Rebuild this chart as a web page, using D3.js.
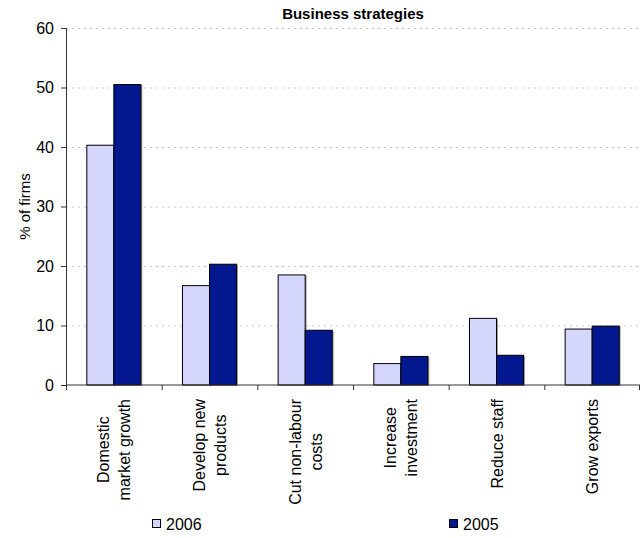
<!DOCTYPE html>
<html>
<head>
<meta charset="utf-8">
<script src="https://cdn.jsdelivr.net/npm/d3@7"></script>
<style>
  body { margin: 0; background: #fff; }
  text { font-family: Arial, "Liberation Sans", sans-serif; fill: #000; }
</style>
</head>
<body>
<div id="chart"></div>
<script>
// chart data
var categories = [
  ["Domestic", "market growth"],
  ["Develop new", "products"],
  ["Cut non-labour", "costs"],
  ["Increase", "investment"],
  ["Reduce staff"],
  ["Grow exports"]
];
var seriesNames = ["2006", "2005"];
var values2006 = [40.3, 16.7, 18.5, 3.6, 11.2, 9.4];
var values2005 = [50.5, 20.3, 9.2, 4.8, 5.0, 9.9];
var yTicks = [0, 10, 20, 30, 40, 50, 60];
var colors = ["#D5D6FB", "#03178F"];

var width = 644, height = 538;
var margin = {top: 28, right: 4, bottom: 153, left: 66};
var plotW = width - margin.left - margin.right;
var plotH = height - margin.top - margin.bottom;

var svg = d3.select("#chart")
  .append("svg")
    .attr("width", width)
    .attr("height", height);

var g = svg.append("g")
  .attr("transform", "translate(" + margin.left + "," + margin.top + ")");

var catIdx = d3.range(categories.length);

var x0 = d3.scaleBand()
  .domain(catIdx)
  .range([0, plotW])
  .padding(0);

var x1 = d3.scaleBand()
  .domain(seriesNames)
  .range([0, x0.bandwidth()])
  .paddingInner(0)
  .paddingOuter(0.77);

var y = d3.scaleLinear()
  .domain([0, 60])
  .range([plotH, 0]);

// gridlines
g.append("g")
  .selectAll("line")
  .data(yTicks.filter(d => d > 0))
  .enter()
  .append("line")
    .attr("x1", 0)
    .attr("x2", plotW)
    .attr("y1", d => y(d) + 0.5)
    .attr("y2", d => y(d) + 0.5)
    .attr("stroke", "#c8c8c8")
    .attr("stroke-dasharray", "2,4");

// bars
var rows = catIdx.map(i => [values2006[i], values2005[i]]);

var groups = g.append("g")
  .selectAll("g")
  .data(rows)
  .enter()
  .append("g")
    .attr("transform", (d, i) => "translate(" + x0(i) + ",0)");

// light shadow
groups.selectAll("rect.shadow")
  .data(d => d.map((v, k) => ({k: k, v: v})))
  .enter()
  .append("rect")
    .attr("class", "shadow")
    .attr("x", d => x1(seriesNames[d.k]) + 1.5)
    .attr("y", d => y(d.v) + 0.5)
    .attr("width", x1.bandwidth())
    .attr("height", d => plotH - y(d.v))
    .attr("fill", "#a0a0a0");

groups.selectAll("rect.bar")
  .data(d => d.map((v, k) => ({k: k, v: v})))
  .enter()
  .append("rect")
    .attr("class", "bar")
    .attr("x", d => x1(seriesNames[d.k]))
    .attr("y", d => y(d.v))
    .attr("width", x1.bandwidth())
    .attr("height", d => plotH - y(d.v))
    .attr("fill", d => colors[d.k])
    .attr("stroke", "#000")
    .attr("stroke-width", 1);

// y axis
var yAxis = g.append("g")
  .call(d3.axisLeft(y).tickValues(yTicks).tickSize(5).tickPadding(7));
yAxis.select(".domain").attr("stroke", "#333");
yAxis.selectAll(".tick line").attr("stroke", "#333");
yAxis.selectAll(".tick text")
  .style("font-size", "16px")
  .attr("fill", "#000");

// x axis: base line and category boundary ticks
var xAxis = g.append("g").attr("transform", "translate(0," + plotH + ")");
xAxis.append("line")
  .attr("x1", 0).attr("x2", plotW)
  .attr("stroke", "#333");
xAxis.selectAll("line.tk")
  .data(d3.range(categories.length + 1))
  .enter()
  .append("line")
    .attr("class", "tk")
    .attr("x1", d => d === categories.length ? plotW - 0.5 : x0(d) + 0.5)
    .attr("x2", d => d === categories.length ? plotW - 0.5 : x0(d) + 0.5)
    .attr("y1", 0)
    .attr("y2", 5)
    .attr("stroke", "#333");

// rotated category labels
var lineH = 21;
var labels = xAxis.selectAll("g.lbl")
  .data(categories)
  .enter()
  .append("g")
    .attr("class", "lbl")
    .attr("transform", (d, i) => "translate(" + (x0(i) + x0.bandwidth() / 2) + ",14) rotate(-90)");

labels.each(function(lines) {
  var el = d3.select(this);
  var n = lines.length;
  var texts = lines.map((t, k) => el.append("text")
    .attr("y", (k - (n - 1) / 2) * lineH + 6)
    .style("font-size", "16px")
    .text(t));
  var maxLen = d3.max(texts, t => t.node().getComputedTextLength());
  texts.forEach(t => {
    t.attr("x", -maxLen / 2).attr("text-anchor", "middle");
  });
});

// y axis title
svg.append("text")
  .attr("transform", "translate(30," + (margin.top + plotH / 2) + ") rotate(-90)")
  .attr("text-anchor", "middle")
  .style("font-size", "15px")
  .text("% of firms");

// chart title
svg.append("text")
  .attr("x", margin.left + plotW / 2)
  .attr("y", 19)
  .attr("text-anchor", "middle")
  .style("font-size", "15px")
  .style("font-weight", "bold")
  .text("Business strategies");

// legend
var legendX = [152, 449];
var legend = svg.append("g")
  .selectAll("g")
  .data(seriesNames)
  .enter()
  .append("g")
    .attr("transform", (d, i) => "translate(" + legendX[i] + ",524)");

legend.append("rect")
  .attr("x", 0.5).attr("y", -4.5)
  .attr("width", 8).attr("height", 8)
  .attr("fill", (d, i) => colors[i])
  .attr("stroke", "#000");

legend.append("text")
  .attr("x", 14)
  .attr("y", 6)
  .style("font-size", "16px")
  .text(d => d);
</script>
</body>
</html>
